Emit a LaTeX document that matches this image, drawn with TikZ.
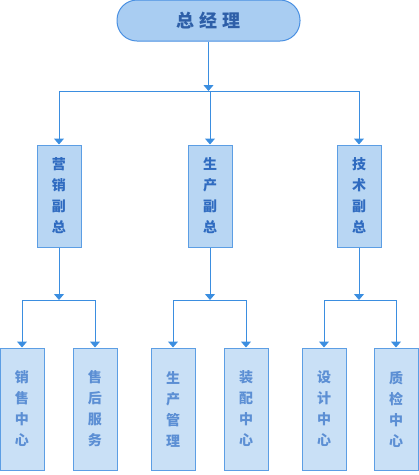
\documentclass[tikz,border=0pt]{standalone}
\usepackage{fontspec}
\setmainfont{Noto Sans CJK SC}
\usetikzlibrary{arrows.meta}
\definecolor{topfill}{HTML}{A9CDF2}
\definecolor{midfill}{HTML}{B8D6F3}
\definecolor{leaffill}{HTML}{C9E0F6}
\definecolor{boxline}{HTML}{5C9EE4}
\definecolor{topline}{HTML}{4A90E2}
\definecolor{toptext}{HTML}{2E5FA8}
\definecolor{midtext}{HTML}{2F6BC0}
\definecolor{leaftext}{HTML}{5C8FD4}
\definecolor{conn}{HTML}{3B8EE0}
\tikzset{
  topbox/.style={draw=topline, fill=topfill, line width=1pt, rounded corners=20pt,
    minimum width=183pt, minimum height=41pt, inner sep=0pt,
    font=\fontsize{18pt}{20pt}\selectfont\bfseries, text=toptext},
  midbox/.style={draw=boxline, fill=midfill, line width=1pt,
    minimum width=44pt, minimum height=102pt, inner sep=0pt, align=center,
    font=\fontsize{14pt}{21pt}\selectfont\bfseries, text=midtext},
  leafbox/.style={draw=boxline, fill=leaffill, line width=1pt,
    minimum width=44pt, minimum height=122pt, inner sep=0pt, align=center,
    font=\fontsize{14pt}{21pt}\selectfont\bfseries, text=leaftext},
  link/.style={draw=conn, line width=1pt},
  arr/.style={link, -{Triangle[width=10pt,length=6pt]}}
}
\begin{document}
\begin{tikzpicture}[x=1pt,y=-1pt]
\useasboundingbox (0,0) rectangle (419,475);
\node[topbox] (gm) at (208.5,20.5) {总\hspace{5pt}经\hspace{5pt}理};
\node[midbox] (m1) at (59,196) {营\\销\\副\\总};
\node[midbox] (m2) at (210,196) {生\\产\\副\\总};
\node[midbox] (m3) at (359,196) {技\\术\\副\\总};
\node[leafbox] (l1) at (22,409) {销\\售\\中\\心};
\node[leafbox] (l2) at (95,409) {售\\后\\服\\务};
\node[leafbox] (l3) at (173,409) {生\\产\\管\\理};
\node[leafbox] (l4) at (246,409) {装\\配\\中\\心};
\node[leafbox] (l5) at (324,409) {设\\计\\中\\心};
\node[leafbox] (l6) at (396,409) {质\\检\\中\\心};
\coordinate (j0) at (gm.south |- 0,91);
\coordinate (j0l) at (m1.north |- 0,91);
\coordinate (j0r) at (m3.north |- 0,91);
\coordinate (j0m) at (m2.north |- 0,91);
\draw[arr] (gm.south) -- (j0);
\draw[link] (j0l) -- (j0r);
\draw[arr] (j0l) -- (m1.north);
\draw[arr] (j0m) -- (m2.north);
\draw[arr] (j0r) -- (m3.north);
\foreach \m/\a/\b in {m1/l1/l2, m2/l3/l4, m3/l5/l6}{
  \coordinate (\m j) at (\m.south |- 0,300);
  \coordinate (\m a) at (\a.north |- 0,300);
  \coordinate (\m b) at (\b.north |- 0,300);
  \draw[arr] (\m.south) -- (\m j);
  \draw[link] (\m a) -- (\m b);
  \draw[arr] (\m a) -- (\a.north);
  \draw[arr] (\m b) -- (\b.north);
}
\end{tikzpicture}
\end{document}
